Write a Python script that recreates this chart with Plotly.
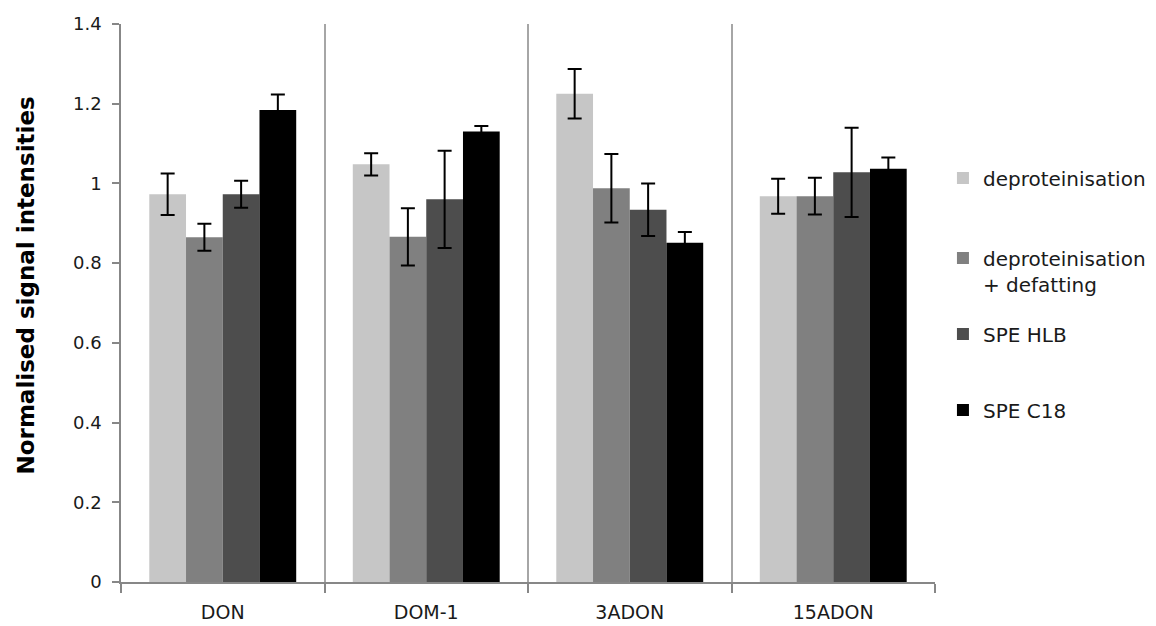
import plotly.graph_objects as go

categories = ["DON", "DOM-1", "3ADON", "15ADON"]
series_names = ["deproteinisation", "deproteinisation<br>+ defatting", "SPE HLB", "SPE C18"]
deproteinisation = [0.973, 1.048, 1.225, 0.968]
deproteinisation_err = [0.052, 0.028, 0.062, 0.044]
defatting = [0.865, 0.866, 0.988, 0.968]
defatting_err = [0.034, 0.072, 0.086, 0.046]
spe_hlb = [0.973, 0.960, 0.934, 1.028]
spe_hlb_err = [0.034, 0.122, 0.066, 0.112]
spe_c18 = [1.184, 1.130, 0.851, 1.037]
spe_c18_err = [0.039, 0.014, 0.027, 0.028]
colors = ["#c6c6c6", "#808080", "#4d4d4d", "#000000"]
y_ticks = [0, 0.2, 0.4, 0.6, 0.8, 1.0, 1.2, 1.4]
y_tick_text = ["0", "0.2", "0.4", "0.6", "0.8", "1", "1.2", "1.4"]
y_title = "Normalised signal intensities"

values = [deproteinisation, defatting, spe_hlb, spe_c18]
errors = [deproteinisation_err, defatting_err, spe_hlb_err, spe_c18_err]
legend_ids = ["legend", "legend2", "legend3", "legend4"]
legend_y = [0.7157, 0.5671, 0.4665, 0.345]

FONT = "DejaVu Sans"
TXT = "#1a1a1a"

fig = go.Figure()
for name, vals, errs, col, lid in zip(series_names, values, errors, colors, legend_ids):
    fig.add_trace(go.Bar(
        x=categories, y=vals, name=name,
        marker=dict(color=col, line=dict(width=0)),
        error_y=dict(type="data", array=errs, visible=True, color="#000000",
                     thickness=2, width=7),
        legend=lid,
    ))

legend_common = dict(
    xref="container", yref="container",
    x=0.8157, xanchor="left", yanchor="middle",
    font=dict(family=FONT, size=20, color=TXT),
    valign="top", bgcolor="rgba(0,0,0,0)", borderwidth=0,
)
legend_layout = {lid: dict(legend_common, y=ly) for lid, ly in zip(legend_ids, legend_y)}

fig.update_layout(
    width=1156, height=626,
    margin=dict(l=121, r=221, t=24, b=44),
    plot_bgcolor="white", paper_bgcolor="white",
    barmode="group", bargap=0.278, bargroupgap=0,
    font=dict(family=FONT, color=TXT),
    showlegend=True,
    **legend_layout,
)
fig.add_annotation(
    text=f"<b>{y_title}</b>", textangle=-90,
    xref="paper", yref="paper", x=-0.1167, y=0.5314,
    xanchor="center", yanchor="middle", showarrow=False,
    font=dict(family=FONT, size=23, color="#000000"),
)
fig.update_xaxes(
    type="category", tickson="boundaries", automargin=False,
    showline=True, linecolor="#878787", linewidth=2,
    showgrid=True, gridcolor="#a6a6a6", gridwidth=1.5,
    ticks="outside", ticklen=9, tickwidth=1.5, tickcolor="#878787",
    tickfont=dict(family=FONT, size=19, color=TXT),
    ticklabelstandoff=12,
    zeroline=False,
)
fig.update_yaxes(
    range=[0, 1.4], tickvals=y_ticks, ticktext=y_tick_text, automargin=False,
    showline=True, linecolor="#878787", linewidth=1.5,
    showgrid=False, zeroline=False,
    ticks="outside", ticklen=7, tickwidth=1.5, tickcolor="#878787",
    tickfont=dict(family=FONT, size=18, color=TXT),
    ticklabelstandoff=7,
)

fig.write_html("out.html")
